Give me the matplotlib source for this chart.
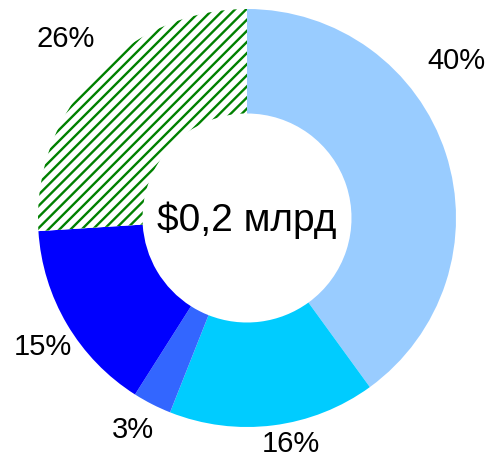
import matplotlib.pyplot as plt

plt.rcParams['font.family'] = ['Liberation Sans', 'DejaVu Sans']
plt.rcParams['hatch.linewidth'] = 1.7

# shares of the total, clockwise from 12 o'clock
shares = [40, 16, 3, 15, 26]
labels = ['40%', '16%', '3%', '15%', '26%']
colors = ['#99CCFF', '#00CCFF', '#3366FF', '#0000FF', 'white']
center_text = '$0,2 млрд'

# label positions (in pie radius units), placed like the original
label_pos = [(1.00, 0.75), (0.21, -1.08), (-0.545, -1.015), (-0.976, -0.617), (-0.866, 0.855)]

fig = plt.figure(figsize=(4.9, 4.57), dpi=100)
ax = fig.add_axes([0, 0, 1, 1])

wedges, _ = ax.pie(shares, colors=colors, startangle=90, counterclock=False,
                   radius=1.0, wedgeprops=dict(width=0.5, linewidth=0))

# last slice is white with green diagonal stripes
wedges[-1].set_hatch('///')
wedges[-1].set_edgecolor('#008000')
wedges[-1].set_linewidth(0)

for lab, (x, y) in zip(labels, label_pos):
    ax.text(x, y, lab, fontsize=21, ha='center', va='center')

ax.text(0, -0.01, center_text, fontsize=28, ha='center', va='center')

ax.set_xlim(-247 / 209, 243 / 209)
ax.set_ylim(-239 / 209, 218 / 209)
ax.set_aspect('auto')
ax.axis('off')

fig.savefig('out.png', dpi=100)
